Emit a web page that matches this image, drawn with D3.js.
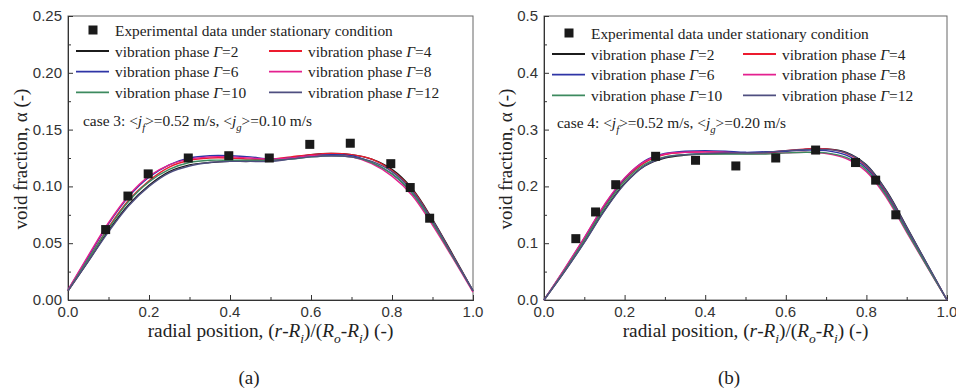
<!DOCTYPE html>
<html>
<head>
<meta charset="utf-8">
<script src="https://cdn.jsdelivr.net/npm/d3@7"></script>
<style>
  body { margin: 0; background: #fff; }
  svg { display: block; }
</style>
</head>
<body>
<div id="chart"></div>
<script>
// ---------------------------------------------------------------- DATA
var xGrid = [0, 0.05, 0.1, 0.15, 0.2, 0.25, 0.3, 0.35, 0.4, 0.45, 0.5,
             0.55, 0.6, 0.65, 0.7, 0.75, 0.8, 0.85, 0.9, 0.95, 1.0];

var gammaLabels = ["2", "4", "6", "8", "10", "12"];
var lineColors = ["#1c1c1c", "#ec1b2e", "#2e35a6", "#e4208f", "#3d8a5f", "#4f4f80"];

// case 3 (panel a)
var expX_a = [0.093, 0.148, 0.198, 0.297, 0.397, 0.497, 0.597, 0.697, 0.797, 0.845, 0.893];
var expY_a = [0.062, 0.0915, 0.111, 0.125, 0.127, 0.125, 0.137, 0.138, 0.120, 0.099, 0.072];
var g2_a  = [0.008, 0.034, 0.061, 0.084, 0.101, 0.113, 0.119, 0.121, 0.122, 0.122, 0.123, 0.125, 0.128, 0.129, 0.128, 0.124, 0.115, 0.098, 0.071, 0.040, 0.008];
var g4_a  = [0.008, 0.036, 0.064, 0.088, 0.105, 0.117, 0.123, 0.125, 0.125, 0.124, 0.124, 0.126, 0.128, 0.129, 0.128, 0.124, 0.114, 0.097, 0.070, 0.039, 0.008];
var g6_a  = [0.009, 0.038, 0.067, 0.091, 0.108, 0.119, 0.125, 0.127, 0.127, 0.126, 0.124, 0.125, 0.127, 0.128, 0.127, 0.121, 0.111, 0.094, 0.068, 0.038, 0.008];
var g8_a  = [0.009, 0.039, 0.068, 0.092, 0.109, 0.119, 0.124, 0.126, 0.126, 0.125, 0.124, 0.125, 0.127, 0.127, 0.126, 0.120, 0.109, 0.092, 0.066, 0.037, 0.007];
var g10_a = [0.008, 0.036, 0.063, 0.087, 0.104, 0.115, 0.121, 0.123, 0.123, 0.123, 0.123, 0.124, 0.126, 0.127, 0.126, 0.121, 0.111, 0.094, 0.068, 0.038, 0.008];
var g12_a = [0.008, 0.034, 0.060, 0.083, 0.100, 0.112, 0.118, 0.121, 0.122, 0.122, 0.122, 0.124, 0.126, 0.127, 0.126, 0.122, 0.113, 0.096, 0.070, 0.039, 0.008];

// case 4 (panel b)
var expX_b = [0.079, 0.128, 0.178, 0.277, 0.376, 0.476, 0.575, 0.674, 0.773, 0.823, 0.873];
var expY_b = [0.108, 0.155, 0.203, 0.253, 0.246, 0.236, 0.250, 0.264, 0.242, 0.211, 0.150];
var g2_b  = [0, 0.049, 0.102, 0.158, 0.205, 0.236, 0.250, 0.255, 0.257, 0.258, 0.258, 0.259, 0.262, 0.265, 0.266, 0.260, 0.238, 0.192, 0.129, 0.064, 0];
var g4_b  = [0, 0.052, 0.107, 0.165, 0.212, 0.242, 0.256, 0.260, 0.261, 0.260, 0.259, 0.260, 0.263, 0.266, 0.266, 0.258, 0.235, 0.188, 0.125, 0.062, 0];
var g6_b  = [0, 0.053, 0.109, 0.167, 0.214, 0.245, 0.258, 0.262, 0.263, 0.262, 0.260, 0.261, 0.262, 0.264, 0.263, 0.255, 0.232, 0.185, 0.123, 0.061, 0];
var g8_b  = [0, 0.054, 0.110, 0.168, 0.215, 0.244, 0.257, 0.260, 0.261, 0.260, 0.258, 0.258, 0.259, 0.260, 0.258, 0.249, 0.226, 0.180, 0.119, 0.059, 0];
var g10_b = [0, 0.051, 0.105, 0.162, 0.209, 0.239, 0.252, 0.256, 0.257, 0.257, 0.257, 0.257, 0.259, 0.260, 0.259, 0.251, 0.229, 0.183, 0.121, 0.060, 0];
var g12_b = [0, 0.049, 0.101, 0.157, 0.204, 0.236, 0.251, 0.256, 0.258, 0.259, 0.259, 0.260, 0.263, 0.265, 0.265, 0.259, 0.237, 0.191, 0.128, 0.064, 0];

var xTicks = [0.0, 0.2, 0.4, 0.6, 0.8, 1.0];
var yTicks_a = [0.00, 0.05, 0.10, 0.15, 0.20, 0.25];
var yTicks_b = [0.0, 0.1, 0.2, 0.3, 0.4, 0.5];

// ---------------------------------------------------------------- CONTAINERS
var width = 956, height = 391;
var serif = "'Liberation Serif', 'Times New Roman', serif";
var sans = "'Liberation Sans', Arial, sans-serif";

var svg = d3.select("#chart").append("svg")
    .attr("width", width)
    .attr("height", height);
svg.append("rect").attr("width", width).attr("height", height).attr("fill", "#fff");

// rich text helper: parts = [{t, it, sub}]
function richText(sel, parts, size) {
    parts.forEach(function (p, i) {
        var prevSub = i > 0 && parts[i - 1].sub;
        var dy = 0;
        if (p.sub && !prevSub) dy = size * 0.3;
        if (!p.sub && prevSub) dy = -size * 0.3;
        sel.append("tspan")
            .attr("dy", dy)
            .style("font-style", p.it ? "italic" : "normal")
            .style("font-size", p.sub ? (size * 0.7) + "px" : size + "px")
            .text(p.t);
    });
}

function drawPanel(opt) {
    var g = svg.append("g");
    var x = d3.scaleLinear().domain([0, 1]).range([opt.left, opt.right]);
    var y = d3.scaleLinear().domain([0, opt.ymax]).range([300, 16]);

    // frame
    g.append("rect")
        .attr("x", opt.left).attr("y", 16)
        .attr("width", opt.right - opt.left).attr("height", 284)
        .attr("fill", "none").attr("stroke", "#666").attr("stroke-width", 1);

    // axes, ticks inward
    var xAxis = d3.axisTop(x).tickValues(xTicks).tickSize(5).tickFormat("");
    var xMinor = d3.axisTop(x).tickValues([0.1, 0.3, 0.5, 0.7, 0.9]).tickSize(3).tickFormat("");
    var yAxis = d3.axisRight(y).tickValues(opt.yTicks).tickSize(5).tickFormat("");
    var yMinor = d3.axisRight(y).tickValues(opt.yMinor).tickSize(3).tickFormat("");

    [[xAxis, "translate(0,300)"], [xMinor, "translate(0,300)"],
     [yAxis, "translate(" + opt.left + ",0)"], [yMinor, "translate(" + opt.left + ",0)"]]
        .forEach(function (a) {
            var ag = g.append("g").attr("transform", a[1]).call(a[0]);
            ag.select(".domain").attr("stroke", "#333");
            ag.selectAll(".tick line").attr("stroke", "#333");
        });

    // tick labels
    g.selectAll(".xlab").data(xTicks).enter().append("text")
        .attr("x", function (d) { return x(d); })
        .attr("y", 317)
        .attr("text-anchor", "middle")
        .attr("font-family", sans).attr("font-size", 15).attr("fill", "#333")
        .text(function (d) { return d.toFixed(1); });
    g.selectAll(".ylab").data(opt.yTicks).enter().append("text")
        .attr("x", opt.left - 6)
        .attr("y", function (d) { return y(d) + 5; })
        .attr("text-anchor", "end")
        .attr("font-family", sans).attr("font-size", 15).attr("fill", "#333")
        .text(function (d) { return d.toFixed(opt.yDec); });

    // titles
    var xt = g.append("text")
        .attr("x", (opt.left + opt.right) / 2).attr("y", 337)
        .attr("text-anchor", "middle")
        .attr("font-family", serif).attr("fill", "#222");
    richText(xt, [{ t: "radial position, (" }, { t: "r", it: 1 }, { t: "-" }, { t: "R", it: 1 },
        { t: "i", it: 1, sub: 1 }, { t: ")/(" }, { t: "R", it: 1 }, { t: "o", it: 1, sub: 1 },
        { t: "-" }, { t: "R", it: 1 }, { t: "i", it: 1, sub: 1 }, { t: ") (-)" }], 19.3);

    g.append("text")
        .attr("transform", "translate(" + opt.yTitleX + ",159) rotate(-90)")
        .attr("text-anchor", "middle")
        .attr("font-family", serif).attr("font-size", 19).attr("fill", "#222")
        .text("void fraction, \u03b1 (-)");

    g.append("text")
        .attr("x", opt.capX).attr("y", 384)
        .attr("text-anchor", "middle")
        .attr("font-family", serif).attr("font-size", 19).attr("fill", "#222")
        .text(opt.caption);

    // curves
    var line = d3.line()
        .curve(d3.curveCatmullRom)
        .x(function (d) { return x(d[0]); })
        .y(function (d) { return y(d[1]); });

    opt.series.forEach(function (s, i) {
        g.append("path")
            .attr("d", line(xGrid.map(function (v, j) { return [v, s[j]]; })))
            .attr("fill", "none")
            .attr("stroke", lineColors[i])
            .attr("stroke-width", 1.4);
    });

    // experimental points
    g.selectAll(".pt").data(opt.expX).enter().append("rect")
        .attr("x", function (d) { return x(d) - 4.5; })
        .attr("y", function (d, i) { return y(opt.expY[i]) - 4.5; })
        .attr("width", 9).attr("height", 9)
        .attr("fill", "#1a1a1a");

    // legend
    var lg = g.append("g").attr("transform", "translate(" + opt.legX + "," + opt.legY + ")");
    lg.append("rect").attr("x", 17 - 4.5).attr("y", -4.5).attr("width", 9).attr("height", 9).attr("fill", "#1a1a1a");
    lg.append("text").attr("x", 39).attr("y", 5.5)
        .attr("font-family", serif).attr("font-size", 15.4).attr("fill", "#222")
        .text("Experimental data under stationary condition");
    gammaLabels.forEach(function (gl, i) {
        var cx = (i % 2) * opt.legCol;
        var cy = 21 + Math.floor(i / 2) * 20.7;
        lg.append("line")
            .attr("x1", cx).attr("x2", cx + 33).attr("y1", cy).attr("y2", cy)
            .attr("stroke", lineColors[i]).attr("stroke-width", 1.8);
        var t = lg.append("text").attr("x", cx + 39).attr("y", cy + 5.5)
            .attr("font-family", serif).attr("fill", "#222");
        richText(t, [{ t: "vibration phase " }, { t: "\u0393", it: 1 }, { t: "=" + gl }], 15.4);
    });

    // case text
    var ct = g.append("text").attr("x", opt.caseX).attr("y", opt.caseY)
        .attr("font-family", serif).attr("fill", "#222");
    richText(ct, [{ t: opt.caseName + ":  <" }, { t: "j", it: 1 }, { t: "f", it: 1, sub: 1 },
        { t: ">=0.52 m/s, <" }, { t: "j", it: 1 }, { t: "g", it: 1, sub: 1 }, { t: ">=" + opt.jg + " m/s" }], 15.4);
}

drawPanel({
    left: 68, right: 473, ymax: 0.25, yTicks: yTicks_a, yDec: 2,
    yMinor: [0.025, 0.075, 0.125, 0.175, 0.225],
    series: [g2_a, g4_a, g6_a, g8_a, g10_a, g12_a],
    expX: expX_a, expY: expY_a,
    legX: 76, legY: 30, legCol: 193,
    caseX: 83, caseY: 126, caseName: "case 3", jg: "0.10",
    caption: "(a)", capX: 249, yTitleX: 27
});

drawPanel({
    left: 544, right: 947, ymax: 0.5, yTicks: yTicks_b, yDec: 1,
    yMinor: [0.05, 0.15, 0.25, 0.35, 0.45],
    series: [g2_b, g4_b, g6_b, g8_b, g10_b, g12_b],
    expX: expX_b, expY: expY_b,
    legX: 552, legY: 33, legCol: 191,
    caseX: 557, caseY: 128, caseName: "case 4", jg: "0.20",
    caption: "(b)", capX: 729, yTitleX: 512
});
</script>
</body>
</html>
